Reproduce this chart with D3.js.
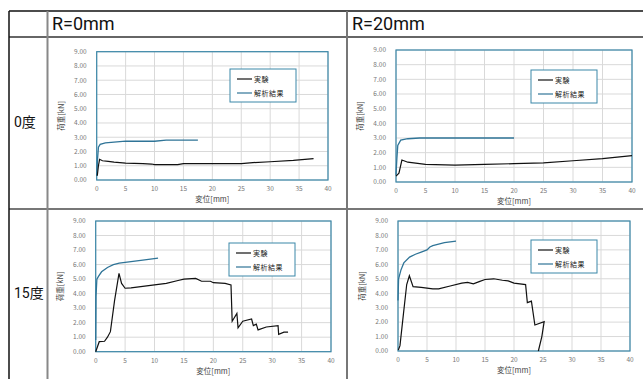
<!DOCTYPE html>
<html>
<head>
  <meta charset="utf-8">
  <script src="https://d3js.org/d3.v7.min.js"></script>
  <style>
    body { margin: 0; background: #fff; }
    .cell-text { font-family: Roboto, "Noto Sans CJK JP", sans-serif; fill: #111; }
    .tick-label { font-family: "Noto Sans CJK JP", sans-serif; font-size: 6.5px; fill: #777; }
    .axis-title { font-family: "Noto Sans CJK JP", sans-serif; font-size: 7.5px; fill: #444; }
    .legend-text { font-family: "Noto Sans CJK JP", sans-serif; font-size: 7px; fill: #222; letter-spacing: 0.5px; }
  </style>
</head>
<body>
<svg width="643" height="379"></svg>
<script>
  // table text
  var colHeaders = ["R=0mm", "R=20mm"];
  var rowHeaders = ["0度", "15度"];
  var legendLabels = ["実験", "解析結果"];
  var xTicks = [0, 5, 10, 15, 20, 25, 30, 35, 40];
  var yTicks = [0, 1, 2, 3, 4, 5, 6, 7, 8, 9];

  // R=0mm, 0deg  [disp mm, load kN]
  var exp_r0_a0 = [[0.1, 0.3], [0.3, 1.0], [0.5, 1.45], [1, 1.35], [2, 1.3], [3, 1.25], [5, 1.18], [8, 1.15],
    [9.5, 1.12], [10, 1.08], [14, 1.08], [15, 1.15], [20, 1.15], [25, 1.15], [27, 1.22], [30, 1.28], [34, 1.38], [37.5, 1.5]];
  var ana_r0_a0 = [[0, 0.3], [0.15, 1.5], [0.3, 2.3], [0.6, 2.5], [1.5, 2.6], [3, 2.65], [5, 2.72], [10, 2.72],
    [12, 2.8], [17.5, 2.8]];

  // R=20mm, 0deg
  var exp_r20_a0 = [[0, 0.4], [0.5, 0.6], [1.0, 1.5], [2, 1.35], [3, 1.3], [5, 1.2], [10, 1.15], [15, 1.2],
    [20, 1.25], [25, 1.3], [30, 1.45], [35, 1.6], [40, 1.8]];
  var ana_r20_a0 = [[0, 0.5], [0.15, 1.6], [0.3, 2.5], [0.8, 2.85], [2, 2.95], [4, 3.0], [20, 3.0]];

  // R=0mm, 15deg
  var exp_r0_a15 = [[0, 0], [0.6, 0.69], [1.5, 0.72], [2, 1.0], [2.5, 1.38], [3.2, 3.5], [3.96, 5.4], [4.4, 4.7],
    [5, 4.37], [6, 4.4], [8, 4.5], [12, 4.7], [14, 4.9], [15, 5.0], [17, 5.05], [18, 4.85], [19.5, 4.85],
    [20, 4.75], [22, 4.7], [23, 4.6], [23.2, 2.1], [24, 2.64], [24.2, 1.65], [25, 2.1], [26.5, 2.25],
    [26.8, 1.8], [27.3, 1.9], [27.6, 1.5], [29, 1.7], [31, 1.8], [31.1, 1.2], [32, 1.35], [32.7, 1.35]];
  var ana_r0_a15 = [[0, 0.8], [0.05, 3.8], [0.2, 5.0], [0.5, 5.2], [1, 5.5], [2, 5.8], [3, 6.0], [4, 6.1],
    [6, 6.2], [8, 6.3], [10.6, 6.45]];

  // R=20mm, 15deg
  var exp_r20_a15 = [[0.06, 0.07], [0.34, 0.37], [0.92, 2.5], [1.5, 4.6], [1.96, 5.21], [2.6, 4.45], [4, 4.4],
    [6, 4.3], [7, 4.3], [9, 4.5], [11, 4.7], [12, 4.75], [13, 4.65], [14, 4.8], [15, 4.95], [16.5, 5.0],
    [18, 4.9], [19, 4.85], [20, 4.7], [22, 4.6], [22.3, 3.35], [23, 3.45], [23.6, 1.8], [25.2, 2.03],
    [24.8, 1.0], [24.2, 0]];
  var ana_r20_a15 = [[0, 3.5], [0.1, 5.0], [0.5, 5.6], [1, 6.1], [2, 6.5], [3, 6.7], [4, 6.85], [5, 7.0],
    [5.5, 7.2], [6, 7.3], [8, 7.5], [10, 7.6]];

  var panels = [
    { exp: exp_r0_a0, ana: ana_r0_a0, box: [96.7, 51.7, 328, 180], leg: [230, 69] },
    { exp: exp_r20_a0, ana: ana_r20_a0, box: [396, 50, 632, 182], leg: [531, 70] },
    { exp: exp_r0_a15, ana: ana_r0_a15, box: [95.7, 221, 331, 351.7], leg: [229, 243] },
    { exp: exp_r20_a15, ana: ana_r20_a15, box: [398, 221, 630, 351], leg: [531, 240] }
  ];

  var svg = d3.select("svg");
  var blue = "#3a87a8", anaColor = "#2f7497";

  // table lines
  var table = svg.append("g");
  function hline(y, x0, x1, c, w) {
    table.append("line").attr("x1", x0).attr("x2", x1).attr("y1", y).attr("y2", y)
      .attr("stroke", c).attr("stroke-width", w);
  }
  function vline(x, y0, y1, c, w) {
    table.append("line").attr("x1", x).attr("x2", x).attr("y1", y0).attr("y2", y1)
      .attr("stroke", c).attr("stroke-width", w);
  }

  panels.forEach(function(p) {
    var x = d3.scaleLinear().domain([0, 40]).range([p.box[0], p.box[2]]);
    var y = d3.scaleLinear().domain([0, 9]).range([p.box[3], p.box[1]]);
    var g = svg.append("g");

    // grid
    g.selectAll(".gx").data(xTicks).enter().append("line")
      .attr("x1", function(d) { return x(d); }).attr("x2", function(d) { return x(d); })
      .attr("y1", y(0)).attr("y2", y(9)).attr("stroke", "#d9d9d9").attr("stroke-width", 1);
    g.selectAll(".gy").data(yTicks).enter().append("line")
      .attr("x1", x(0)).attr("x2", x(40))
      .attr("y1", function(d) { return y(d); }).attr("y2", function(d) { return y(d); })
      .attr("stroke", "#d9d9d9").attr("stroke-width", 1);

    // plot frame
    g.append("rect").attr("x", x(0)).attr("y", y(9)).attr("width", x(40) - x(0)).attr("height", y(0) - y(9))
      .attr("fill", "none").attr("stroke", blue).attr("stroke-width", 1.2);

    // tick labels
    g.selectAll(".tx").data(xTicks).enter().append("text").attr("class", "tick-label")
      .attr("x", function(d) { return x(d); }).attr("y", y(0) + 11)
      .attr("text-anchor", "middle").text(function(d) { return d; });
    g.selectAll(".ty").data(yTicks).enter().append("text").attr("class", "tick-label")
      .attr("x", x(0) - 10).attr("y", function(d) { return y(d) + 2.3; })
      .attr("text-anchor", "end").text(d3.format(".2f"));

    // axis titles
    g.append("text").attr("class", "axis-title")
      .attr("x", (x(0) + x(40)) / 2).attr("y", y(0) + 22).attr("text-anchor", "middle").text("変位[mm]");
    g.append("text").attr("class", "axis-title")
      .attr("transform", "translate(" + (x(0) - 33) + "," + ((y(0) + y(9)) / 2) + ") rotate(-90)")
      .attr("text-anchor", "middle").text("荷重[kN]");

    var line = d3.line().x(function(d) { return x(d[0]); }).y(function(d) { return y(d[1]); });
    g.append("path").datum(p.ana).attr("d", line).attr("fill", "none")
      .attr("stroke", anaColor).attr("stroke-width", 1.3);
    g.append("path").datum(p.exp).attr("d", line).attr("fill", "none")
      .attr("stroke", "#111").attr("stroke-width", 1.2);

    // legend
    var lg = g.append("g").attr("transform", "translate(" + p.leg[0] + "," + p.leg[1] + ")");
    lg.append("rect").attr("width", 66).attr("height", 33).attr("fill", "#fff")
      .attr("stroke", blue).attr("stroke-width", 1);
    [["#111", legendLabels[0]], [anaColor, legendLabels[1]]].forEach(function(e, i) {
      var ly = 10 + i * 14;
      lg.append("line").attr("x1", 7).attr("x2", 22).attr("y1", ly).attr("y2", ly)
        .attr("stroke", e[0]).attr("stroke-width", 1.2);
      lg.append("text").attr("class", "legend-text").attr("x", 24).attr("y", ly + 2.5).text(e[1]);
    });
  });

  // table borders
  hline(11, 9, 643, "#111", 1.5);
  hline(37, 9, 643, "#666", 2);
  hline(209, 9, 643, "#777", 2);
  vline(9, 11, 379, "#111", 1.5);
  vline(47.5, 11, 379, "#888", 2);
  vline(347, 11, 379, "#777", 2);

  // headers
  colHeaders.forEach(function(h, i) {
    svg.append("text").attr("class", "cell-text").attr("x", [52, 352][i]).attr("y", 30)
      .attr("font-size", 18).text(h);
  });
  rowHeaders.forEach(function(h, i) {
    svg.append("text").attr("class", "cell-text").attr("x", 14).attr("y", [127, 298][i])
      .attr("font-size", 14).text(h);
  });
</script>
</body>
</html>
